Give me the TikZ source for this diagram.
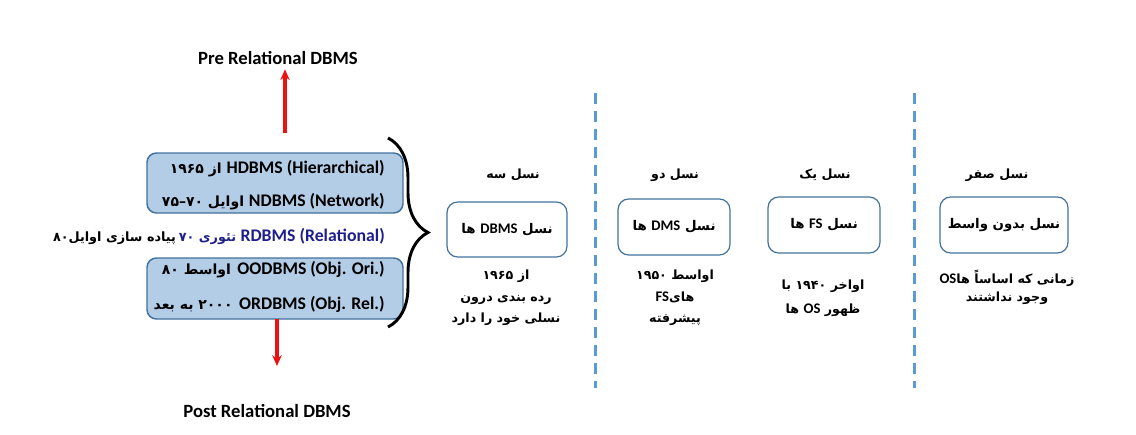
\documentclass[tikz,border=0pt]{standalone}
\usepackage{fontspec}
\setmainfont{Carlito}
\newfontfamily\farsi[Script=Arabic]{DejaVu Sans}
\TeXXeTstate=1
\usetikzlibrary{arrows.meta,decorations.pathreplacing}
\definecolor{boxblue}{HTML}{B4CDE6}
\definecolor{boxline}{HTML}{41719C}
\definecolor{dashblue}{HTML}{5B9BD5}
\definecolor{navyblue}{HTML}{1F1F8C}
\definecolor{arrowred}{HTML}{EE1111}
\newcommand{\lat}[2][13.3]{{\beginL\rmfamily\bfseries\fontsize{#1}{14}\selectfont #2\endL}}
\newcommand{\fa}[1]{{\farsi\bfseries\beginR #1\endR}}
\tikzset{
	oldbox/.style={draw=boxline, fill=boxblue, line width=1.1pt, rounded corners=7pt, minimum width=192pt},
	genbox/.style={draw=boxline, line width=0.9pt, rounded corners=8pt, inner sep=0pt, minimum height=42pt},
	dbline/.style={anchor=east, inner sep=0pt, font=\fontsize{10.5}{14}\selectfont},
	gentext/.style={inner sep=0pt, align=center, font=\fontsize{9.5}{16}\selectfont},
	genhead/.style={font=\fontsize{9.5}{12}\selectfont},
	redarrow/.style={-{Stealth[length=8pt,width=7pt]}, arrowred, line width=2.3pt},
	gendash/.style={dashblue, line width=2.25pt, dash pattern=on 8pt off 5.5pt}
}
\begin{document}
\begin{tikzpicture}[x=0.75pt,y=-0.75pt]
	\useasboundingbox (0,0) rectangle (1136,435);
	% relational groups
	\node[oldbox, minimum height=45pt] (hbox) at (275,183) {};
	\node[oldbox, minimum height=45.75pt] (obox) at (275,288.5) {};
	\node[dbline] (hdbms) at (385,169) {\fa{\lat{HDBMS (Hierarchical)} از ۱۹۶۵}};
	\node[dbline] (ndbms) at (385,202) {\fa{\lat{NDBMS (Network)} اوایل ۷۰\kern0pt–\kern0pt۷۵}};
	\node[dbline, font=\fontsize{9.6}{14}\selectfont] (rdbms) at (385,236) {\fa{پیاده سازی اوایل۸۰} {\color{navyblue}\fa{\lat{RDBMS (Relational)} تئوری ۷۰}}};
	\node[dbline] (oodbms) at (385,270) {\fa{\lat{OODBMS (Obj. Ori.)} اواسط ۸۰}};
	\node[dbline] (ordbms) at (385,304) {\fa{\lat{ORDBMS (Obj. Rel.)} ۲۰۰۰ به بعد}};

	% pre and post labels
	\node[font=\bfseries\fontsize{14}{16}\selectfont] (pre) at (278,58) {Pre Relational DBMS};
	\node[font=\bfseries\fontsize{14}{16}\selectfont] (post) at (267,411) {Post Relational DBMS};
	\coordinate (upstart) at (285,133);
	\coordinate (downstart) at (277,319);
	\coordinate (downend) at (277,366);
	\draw[redarrow] (upstart) -- (upstart |- pre.south);
	\draw[redarrow] (downstart) -- (downend);

	% brace
	\coordinate (bracetop) at (388,138);
	\coordinate (bracebot) at (388,327);
	\draw[line width=2.2pt, decorate, decoration={brace, amplitude=30pt}] (bracetop) -- (bracebot);

	% generations
	\node[genhead] (g3) at (513,175) {\fa{نسل سه}};
	\node[genbox, minimum width=90pt, minimum height=41.25pt] (g3box) at (507,229.5) {\fa{نسل \lat[11]{DBMS} ها}};
	\node[gentext] (g3text) at (506,298) {\fa{از ۱۹۶۵}\\\fa{رده بندی درون}\\\fa{نسلی خود را دارد}};

	\node[genhead] (g2) at (675,175) {\fa{نسل دو}};
	\node[genbox, minimum width=84pt] (g2box) at (674,227) {\fa{نسل \lat[11]{DMS} ها}};
	\node[gentext] (g2text) at (675,298) {\fa{اواسط ۱۹۵۰}\\\fa{های\lat[11]{FS}}\\\fa{پیشرفته}};

	\node[genhead] (g1) at (825,175) {\fa{نسل یک}};
	\node[genbox, minimum width=84pt] (g1box) at (824,225) {\fa{نسل \lat[11]{FS} ها}};
	\node[gentext, font=\fontsize{9.5}{18}\selectfont] (g1text) at (823,298) {\fa{اواخر ۱۹۴۰ با}\\\fa{ظهور \lat[11]{OS} ها}};

	\node[genhead] (g0) at (997,175) {\fa{نسل صفر}};
	\node[genbox, minimum width=96pt] (g0box) at (1004,225) {\fa{نسل بدون واسط}};
	\node[gentext, font=\fontsize{9.5}{14}\selectfont] (g0text) at (1007,287.5) {\fa{زمانی که اساساً ها\lat[11]{OS}}\\\fa{وجود نداشتند}};

	% separators
	\coordinate (sepatop) at (595,93);
	\coordinate (sepabot) at (595,388);
	\coordinate (sepbtop) at (914,93);
	\coordinate (sepbbot) at (914,388);
	\draw[gendash] (sepatop) -- (sepabot);
	\draw[gendash] (sepbtop) -- (sepbbot);
\end{tikzpicture}
\end{document}
